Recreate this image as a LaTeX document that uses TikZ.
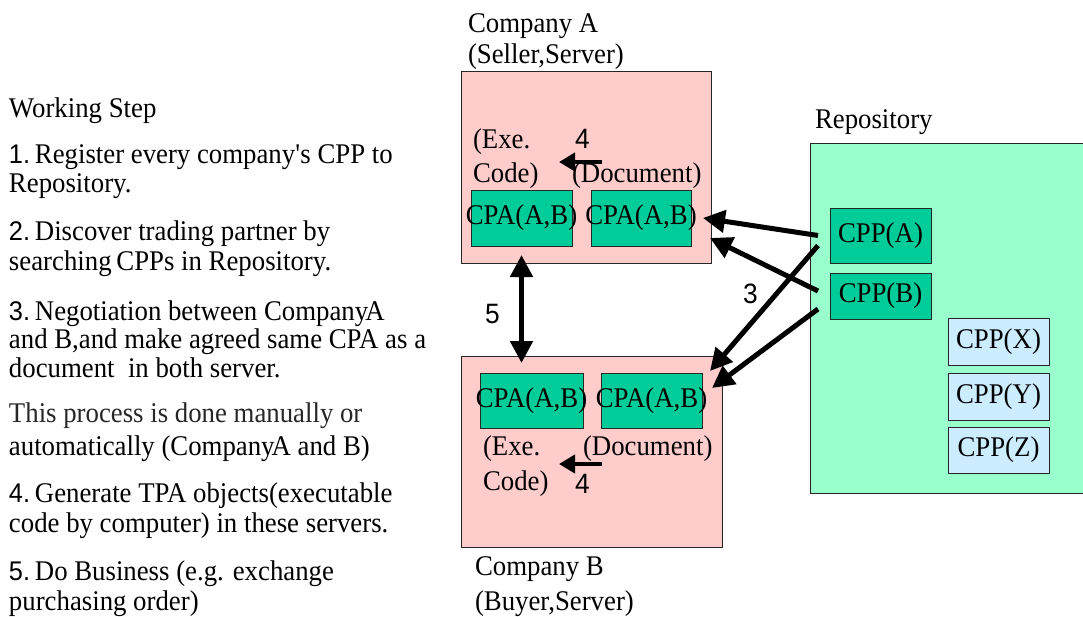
\documentclass[tikz,border=0pt]{standalone}
\usepackage{fontspec}
\setmainfont[FakeStretch=0.94]{Liberation Serif}
\newfontfamily\digitfont[FakeStretch=0.94]{Liberation Sans}
\usetikzlibrary{arrows.meta,calc}

\definecolor{serverpink}{HTML}{FFCCCC}
\definecolor{cpagreen}{HTML}{00CC99}
\definecolor{repogreen}{HTML}{99FFCC}
\definecolor{cppblue}{HTML}{CCECFF}

\newcommand{\stepno}[1]{{\digitfont\fontsize{27}{29}\selectfont #1}\,}

\begin{document}
\begin{tikzpicture}[x=1pt,y=-1pt,
  every node/.style={inner sep=0pt,outer sep=0pt,font=\fontsize{28.5}{29}\selectfont},
  txt/.style={anchor=base west},
  num/.style={anchor=base west,font=\digitfont\fontsize{28}{29}\selectfont},
  panel/.style={draw=black!85,line width=0.8pt,anchor=north west},
  server/.style={panel,fill=serverpink},
  repobox/.style={panel,fill=repogreen},
  cpabox/.style={panel,fill=cpagreen},
  cppbox/.style={panel,fill=cpagreen},
  otherbox/.style={panel,fill=cppblue},
  bigarrow/.style={line width=5pt,-{Triangle[length=22pt,width=22pt]}},
  twoway/.style={line width=5pt,{Triangle[length=22pt,width=22pt]}-{Triangle[length=22pt,width=22pt]}},
  genarrow/.style={line width=4.5pt,-{Triangle[length=16pt,width=18pt]}}
]
\useasboundingbox (0,0) rectangle (1083,616);

% ---- working steps (left column) ----
\node[txt] (ws)  at (9,117) {Working Step};
\node[txt] (s1a) at (9,163) {\stepno{1.}Register every company\textquotesingle s CPP to};
\node[txt] (s1b) at (9,192) {Repository.};
\node[txt] (s2a) at (9,240) {\stepno{2.}Discover trading partner by};
\node[txt] (s2b) at (9,270) {searching\,CPPs in Repository.};
\node[txt] (s3a) at (9,320) {\stepno{3.}Negotiation between Company\kern-3pt A};
\node[txt] (s3b) at (9,348) {and B,and make agreed same CPA as a};
\node[txt] (s3c) at (9,377) {document\ \ in both server.};
\node[txt,text=black!85] (p1) at (9,422) {This process is done manually or};
\node[txt] (p2)  at (9,455) {automatically (Company\kern-3pt A and B)};
\node[txt] (s4a) at (9,502) {\stepno{4.}Generate TPA objects(executable};
\node[txt] (s4b) at (9,532) {code by computer) in these servers.};
\node[txt] (s5a) at (9,580) {\stepno{5.}Do Business (e.g. exchange};
\node[txt] (s5b) at (9,610) {purchasing order)};

% ---- repository ----
\node[repobox,minimum width=280pt,minimum height=350pt] (repo) at (810,143) {};
\node[txt] (repolbl) at (815,128) {Repository};
\node[cppbox,minimum width=101pt,minimum height=55pt] (cppA) at (830,208) {};
\node at (cppA) {CPP(A)};
\node[cppbox,minimum width=101pt,minimum height=46pt] (cppB) at (830,273) {};
\node at (cppB) {CPP(B)};
\node[otherbox,minimum width=101pt,minimum height=47pt] (cppX) at (948,318) {};
\node at (cppX) {CPP(X)};
\node[otherbox,minimum width=101pt,minimum height=47pt] (cppY) at (948,373) {};
\node at (cppY) {CPP(Y)};
\node[otherbox,minimum width=101pt,minimum height=46pt] (cppZ) at (948,427) {};
\node at (cppZ) {CPP(Z)};

% ---- company A (seller) ----
\node[txt] (compAname) at (468,32) {Company A};
\node[txt] (compArole) at (468,63) {(Seller,Server)};
\node[server,minimum width=250pt,minimum height=192pt] (compA) at (461,71) {};
\node[cpabox,minimum width=101pt,minimum height=56pt] (cpaA1) at (471,190) {};
\node at (cpaA1) {CPA(A,B)};
\node[cpabox,minimum width=100pt,minimum height=56pt] (cpaA2) at (591,190) {};
\node at (cpaA2) {CPA(A,B)};
\node[txt] (exeA1) at (473,148) {(Exe.};
\node[txt] (exeA2) at (473,182) {Code)};
\node[txt] (docA)  at (572,182) {(Document)};
\node[num] (genA)  at (575,148) {4};
\coordinate (genAfrom) at (602,162);
\coordinate (genAto)   at (559,162);
\draw[genarrow] (genAfrom) -- (genAto);

% ---- company B (buyer) ----
\node[server,minimum width=261pt,minimum height=191pt] (compB) at (461,356) {};
\node[cpabox,minimum width=103pt,minimum height=55pt] (cpaB1) at (480,373) {};
\node at (cpaB1) {CPA(A,B)};
\node[cpabox,minimum width=101pt,minimum height=55pt] (cpaB2) at (601,373) {};
\node at (cpaB2) {CPA(A,B)};
\node[txt] (exeB1) at (483,455) {(Exe.};
\node[txt] (exeB2) at (483,490) {Code)};
\node[txt] (docB)  at (583,455) {(Document)};
\node[num] (genB)  at (575,493) {4};
\coordinate (genBfrom) at (602,464);
\coordinate (genBto)   at (559,464);
\draw[genarrow] (genBfrom) -- (genBto);
\node[txt] (compBname) at (475,575) {Company B};
\node[txt] (compBrole) at (475,610) {(Buyer,Server)};

% ---- step 3: CPPs fetched from the repository ----
\draw[bigarrow] ($(cppA.west)+(-12,0)$)  -- ($(cpaA2.east)+(12,0)$);
\draw[bigarrow] ($(cppB.west)+(-12,-5)$) -- ($(compA.south east)+(-1,-25)$);
\draw[bigarrow] ($(cppA.west)+(-12,10)$) -- ($(compB.north east)+(-12,15)$);
\draw[bigarrow] ($(cppB.west)+(-12,13)$) -- ($(compB.north east)+(-10,32)$);
\node[num] (lbl3) at (743,303) {3};

% ---- step 5: business exchange ----
\draw[twoway] ($(cpaA1.south)+(0,9)$) -- ($(cpaA1.south |- compB.north)+(0,7)$);
\node[num] (lbl5) at (485,323) {5};
\end{tikzpicture}
\end{document}
